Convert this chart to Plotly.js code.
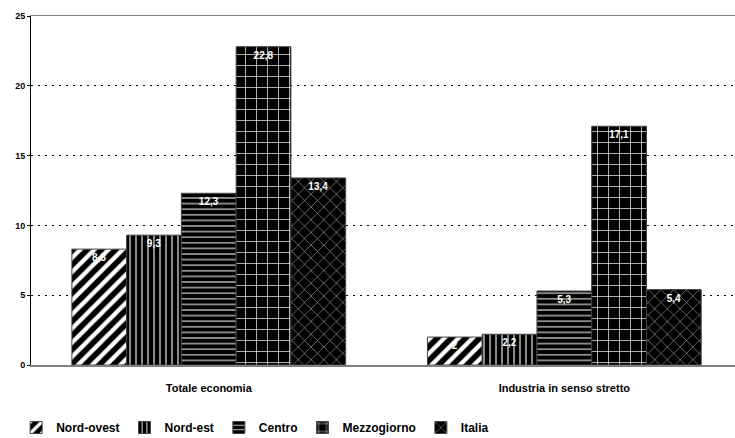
<!DOCTYPE html>
<html>
<head>
<meta charset="utf-8">
<script src="https://cdn.plot.ly/plotly-3.0.1.min.js"></script>
<style>html,body{margin:0;padding:0;background:#fff;}#chart{width:735px;height:438px;}</style>
</head>
<body>
<div id="chart"></div>
<script>
const categories = ["Totale economia", "Industria in senso stretto"];
const seriesNames = ["Nord-ovest", "Nord-est", "Centro", "Mezzogiorno", "Italia"];
const nordOvest = [8.3, 2.0];
const nordEst = [9.3, 2.2];
const centro = [12.3, 5.3];
const mezzogiorno = [22.8, 17.1];
const italia = [13.4, 5.4];
const yTicks = [0, 5, 10, 15, 20, 25];

const values = [nordOvest, nordEst, centro, mezzogiorno, italia];
const patterns = [
  {shape: "/", size: 10, solidity: 0.42, fgcolor: "#ffffff"},
  {shape: "|", size: 6, solidity: 0.2, fgcolor: "#e6e6e6"},
  {shape: "-", size: 5.6, solidity: 0.25, fgcolor: "#b8b8b8"},
  {shape: "+", size: 11, solidity: 0.13, fgcolor: "#ececec"},
  {shape: "x", size: 9, solidity: 0.13, fgcolor: "#a8a8a8"}
];

const traces = seriesNames.map((name, i) => ({
  type: "bar",
  name: name,
  x: categories,
  y: values[i],
  texttemplate: "%{y}",
  textposition: "inside",
  insidetextanchor: "end",
  textangle: 0,
  textfont: {family: "Liberation Sans, Arial, sans-serif", size: 10, color: "#ffffff", weight: "bold"},
  marker: {
    color: "#000000",
    line: {color: "#444444", width: 1},
    pattern: Object.assign({fillmode: "overlay", bgcolor: "#000000", fgopacity: 1}, patterns[i])
  },
  hoverinfo: "skip"
}));

const layout = {
  width: 735,
  height: 438,
  margin: {l: 31, r: 0, t: 16, b: 73},
  paper_bgcolor: "#ffffff",
  plot_bgcolor: "#ffffff",
  separators: ",.",
  barmode: "group",
  bargap: 0.23,
  bargroupgap: 0,
  showlegend: true,
  font: {family: "Liberation Sans, Arial, sans-serif", color: "#000000"},
  xaxis: {
    type: "category",
    range: [-0.5, 1.48],
    showline: true,
    linecolor: "#808080",
    linewidth: 1.5,
    mirror: true,
    ticks: "",
    ticklabelstandoff: 12,
    showgrid: false,
    tickfont: {size: 11, weight: "bold"},
    fixedrange: true
  },
  yaxis: {
    range: [0, 25],
    tickvals: yTicks,
    showline: true,
    linecolor: "#000000",
    linewidth: 1,
    ticks: "outside",
    ticklen: 3,
    tickcolor: "#000000",
    showgrid: true,
    gridcolor: "#000000",
    griddash: "2px,5px",
    gridwidth: 1,
    zeroline: false,
    tickfont: {size: 9, weight: "bold"},
    fixedrange: true
  },
  legend: {
    orientation: "h",
    xref: "container",
    yref: "container",
    x: 0.022,
    xanchor: "left",
    y: 0.024,
    yanchor: "middle",
    itemwidth: 30,
    font: {size: 12, weight: "bold"},
    traceorder: "normal"
  }
};

Plotly.newPlot("chart", traces, layout, {displayModeBar: false, staticPlot: true});
</script>
</body>
</html>
